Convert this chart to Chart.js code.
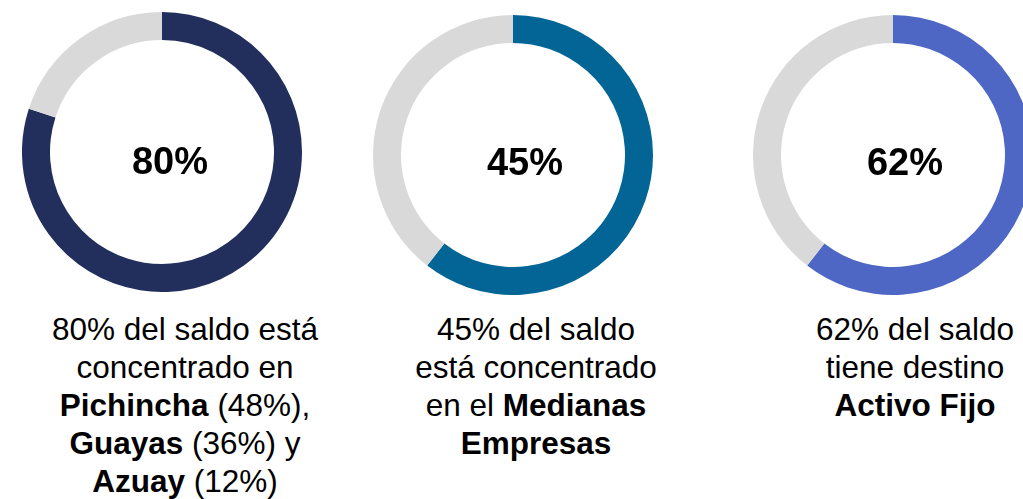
<!DOCTYPE html>
<html>
<head>
<meta charset="utf-8">
<script src="https://cdn.jsdelivr.net/npm/chart.js@4"></script>
<style>
  html, body { margin: 0; padding: 0; background: #fff; overflow: hidden; }
  body { width: 1023px; height: 499px; position: relative; font-family: "Liberation Sans", Arial, sans-serif; }
  .ring { position: absolute; }
  .note {
    position: absolute; width: 320px; text-align: center;
    font-size: 31.5px; line-height: 38px; color: #000;
    font-family: "Liberation Sans", Arial, sans-serif;
  }
  .note b { font-weight: bold; }
</style>
</head>
<body>
<canvas id="ring1" class="ring" width="280" height="280" style="left:22px;top:12px"></canvas>
<canvas id="ring2" class="ring" width="280" height="280" style="left:373px;top:15px"></canvas>
<canvas id="ring3" class="ring" width="280" height="280" style="left:753px;top:15px"></canvas>

<div class="note" style="left:25px;top:310px">80% del saldo está<br>concentrado en<br><b>Pichincha</b> (48%),<br><b>Guayas</b> (36%) y<br><b>Azuay</b> (12%)</div>
<div class="note" style="left:376px;top:310px">45% del saldo<br>está concentrado<br>en el <b>Medianas</b><br><b>Empresas</b></div>
<div class="note" style="left:755px;top:310px">62% del saldo<br>tiene destino<br><b>Activo Fijo</b></div>

<script>
// values (share shown vs. rest)
const labels = ['Saldo', 'Resto'];
const ring1Values = [80, 20];
const ring2Values = [60.5, 39.5];
const ring3Values = [60.5, 39.5];
const centerTexts = ['80%', '45%', '62%'];
const ringColors = ['#222E5C', '#026595', '#4F67C4'];
const restColor = '#D9D9D9';

// draws the big percentage in the middle of each ring
const centerLabel = {
    id: 'centerLabel',
    afterDraw(chart, args, opts) {
        const ctx = chart.ctx;
        const meta = chart.getDatasetMeta(0).data[0];
        ctx.save();
        ctx.font = 'bold 38px "Liberation Sans", Arial, sans-serif';
        ctx.fillStyle = '#000';
        ctx.textAlign = 'center';
        ctx.textBaseline = 'alphabetic';
        ctx.fillText(opts.text, meta.x + opts.dx, meta.y + opts.dy);
        ctx.restore();
    }
};

function drawRing(id, values, color, text, dx, dy) {
    new Chart(document.getElementById(id), {
        type: 'doughnut',
        data: {
            labels: labels,
            datasets: [{
                data: values,
                backgroundColor: [color, restColor],
                borderWidth: 0
            }]
        },
        options: {
            responsive: false,
            animation: false,
            cutout: '80%',
            layout: { padding: 0 },
            plugins: {
                legend: { display: false },
                tooltip: { enabled: false },
                centerLabel: { text: text, dx: dx, dy: dy }
            }
        },
        plugins: [centerLabel]
    });
}

drawRing('ring1', ring1Values, ringColors[0], centerTexts[0], 8, 22);
drawRing('ring2', ring2Values, ringColors[1], centerTexts[1], 12, 20);
drawRing('ring3', ring3Values, ringColors[2], centerTexts[2], 12, 20);
</script>
</body>
</html>
